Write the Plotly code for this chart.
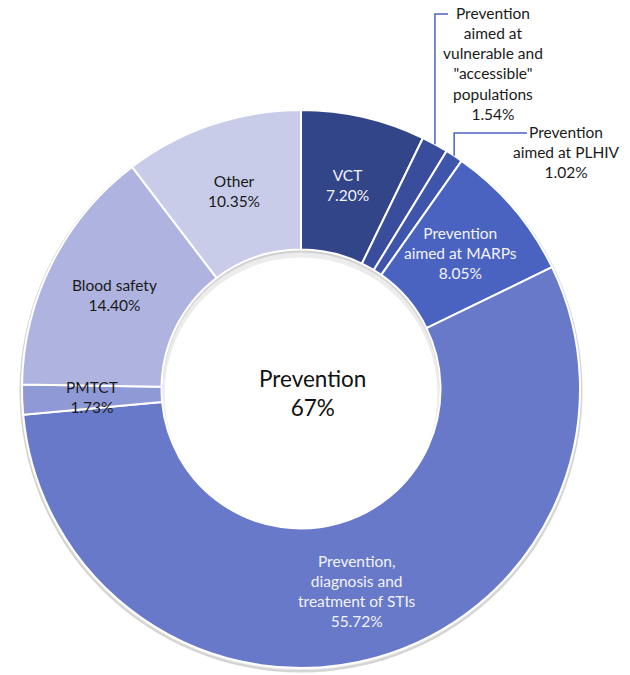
import math
import plotly.graph_objects as go

# Prevention spending breakdown (share of prevention budget, %)
categories = [
    "VCT",
    "Prevention aimed at vulnerable and \"accessible\" populations",
    "Prevention aimed at PLHIV",
    "Prevention aimed at MARPs",
    "Prevention, diagnosis and treatment of STIs",
    "PMTCT",
    "Blood safety",
    "Other",
]
shares = [7.20, 1.54, 1.02, 8.05, 55.72, 1.73, 14.40, 10.35]
label_lines = [
    "VCT",
    "Prevention<br>aimed at<br>vulnerable and<br>\"accessible\"<br>populations",
    "Prevention<br>aimed at PLHIV",
    "Prevention<br>aimed at MARPs",
    "Prevention,<br>diagnosis and<br>treatment of STIs",
    "PMTCT",
    "Blood safety",
    "Other",
]
colors = ["#334589", "#3A4D9C", "#3F55AC", "#4A63C0",
          "#6879CA", "#8E99D6", "#AEB3DF", "#C8CCE9"]
text_colors = ["#F2F3F8", None, None, "#F2F3F8",
               "#F2F3F8", "#1a1a1a", "#1a1a1a", "#1a1a1a"]
# outside labels: label centre x, centre y, elbow y, end of the leader's horizontal run (px)
outside = {1: (493, 63, 14, 448), 2: (566, 152, 133, 527)}
centre_title = "Prevention<br>67%"

W, H = 630, 675
CX, CY, R_OUT, HOLE = 301, 389, 279, 0.5
R_IN = R_OUT * HOLE
R_MID = R_OUT * (1 + HOLE) / 2
FONT = "Lato, Calibri, sans-serif"
FS = 15.5


def px_to_paper(x, y):
    return x / W, 1 - y / H


def point(frac, r):
    a = 2 * math.pi * frac
    return CX + r * math.sin(a), CY - r * math.cos(a)


def disc(cx, cy, r, color):
    x0, y0 = px_to_paper(cx - r, cy + r)
    x1, y1 = px_to_paper(cx + r, cy - r)
    return dict(type="circle", xref="paper", yref="paper", layer="below",
                x0=x0, y0=y0, x1=x1, y1=y1,
                fillcolor=color, line=dict(width=0))


fig = go.Figure(go.Pie(
    labels=categories,
    values=shares,
    sort=False,
    direction="clockwise",
    rotation=0,
    hole=HOLE,
    textinfo="none",
    hoverinfo="label+percent",
    marker=dict(colors=colors, line=dict(color="white", width=2)),
    domain=dict(x=[(CX - R_OUT) / W, (CX + R_OUT) / W],
                y=[1 - (CY + R_OUT) / H, 1 - (CY - R_OUT) / H]),
    showlegend=False,
))

# soft drop shadow under the ring and inside the top of the hole
shapes = [
    disc(CX, CY + 2, R_OUT + 2.5, "#d4d4d4"),
    disc(CX, CY + 1, R_OUT + 1, "#ececec"),
    disc(CX, CY, R_IN + 1, "#d2d2d2"),
    disc(CX, CY + 2, R_IN - 1, "#ececec"),
    disc(CX, CY + 5, R_IN - 3, "#ffffff"),
]

total = sum(shares)
annotations = []
cum = 0.0
for i, v in enumerate(shares):
    mid = (cum + v / 2) / total
    cum += v
    text = f"{label_lines[i]}<br>{v:.2f}%"
    if i in outside:
        lx, ly, ey, ex = outside[i]
        sx, sy = point(mid, R_OUT)
        x0, y0 = px_to_paper(sx, sy)
        x1, y1 = px_to_paper(sx, ey)
        x2, y2 = px_to_paper(ex, ey)
        shapes.append(dict(type="path", xref="paper", yref="paper",
                           path=f"M {x0} {y0} L {x1} {y1} L {x2} {y2}",
                           line=dict(color="#4A63C8", width=1.5)))
        ax, ay = px_to_paper(lx, ly)
        annotations.append(dict(x=ax, y=ay, xref="paper", yref="paper",
                                text=text, showarrow=False,
                                xanchor="center", yanchor="middle",
                                font=dict(family=FONT, size=FS, color="#1a1a1a")))
    else:
        tx, ty = point(mid, R_MID)
        ax, ay = px_to_paper(tx, ty)
        annotations.append(dict(x=ax, y=ay, xref="paper", yref="paper",
                                text=text, showarrow=False,
                                xanchor="center", yanchor="middle",
                                font=dict(family=FONT, size=FS, color=text_colors[i])))

cx_p, cy_p = px_to_paper(CX + 11, CY + 4)
annotations.append(dict(x=cx_p, y=cy_p, xref="paper", yref="paper",
                        text=centre_title, showarrow=False,
                        xanchor="center", yanchor="middle",
                        font=dict(family=FONT, size=22.5, color="#111111")))

fig.update_layout(
    width=W, height=H,
    margin=dict(l=0, r=0, t=0, b=0),
    paper_bgcolor="white",
    plot_bgcolor="white",
    annotations=annotations,
    shapes=shapes,
)

fig.write_html("out.html")
